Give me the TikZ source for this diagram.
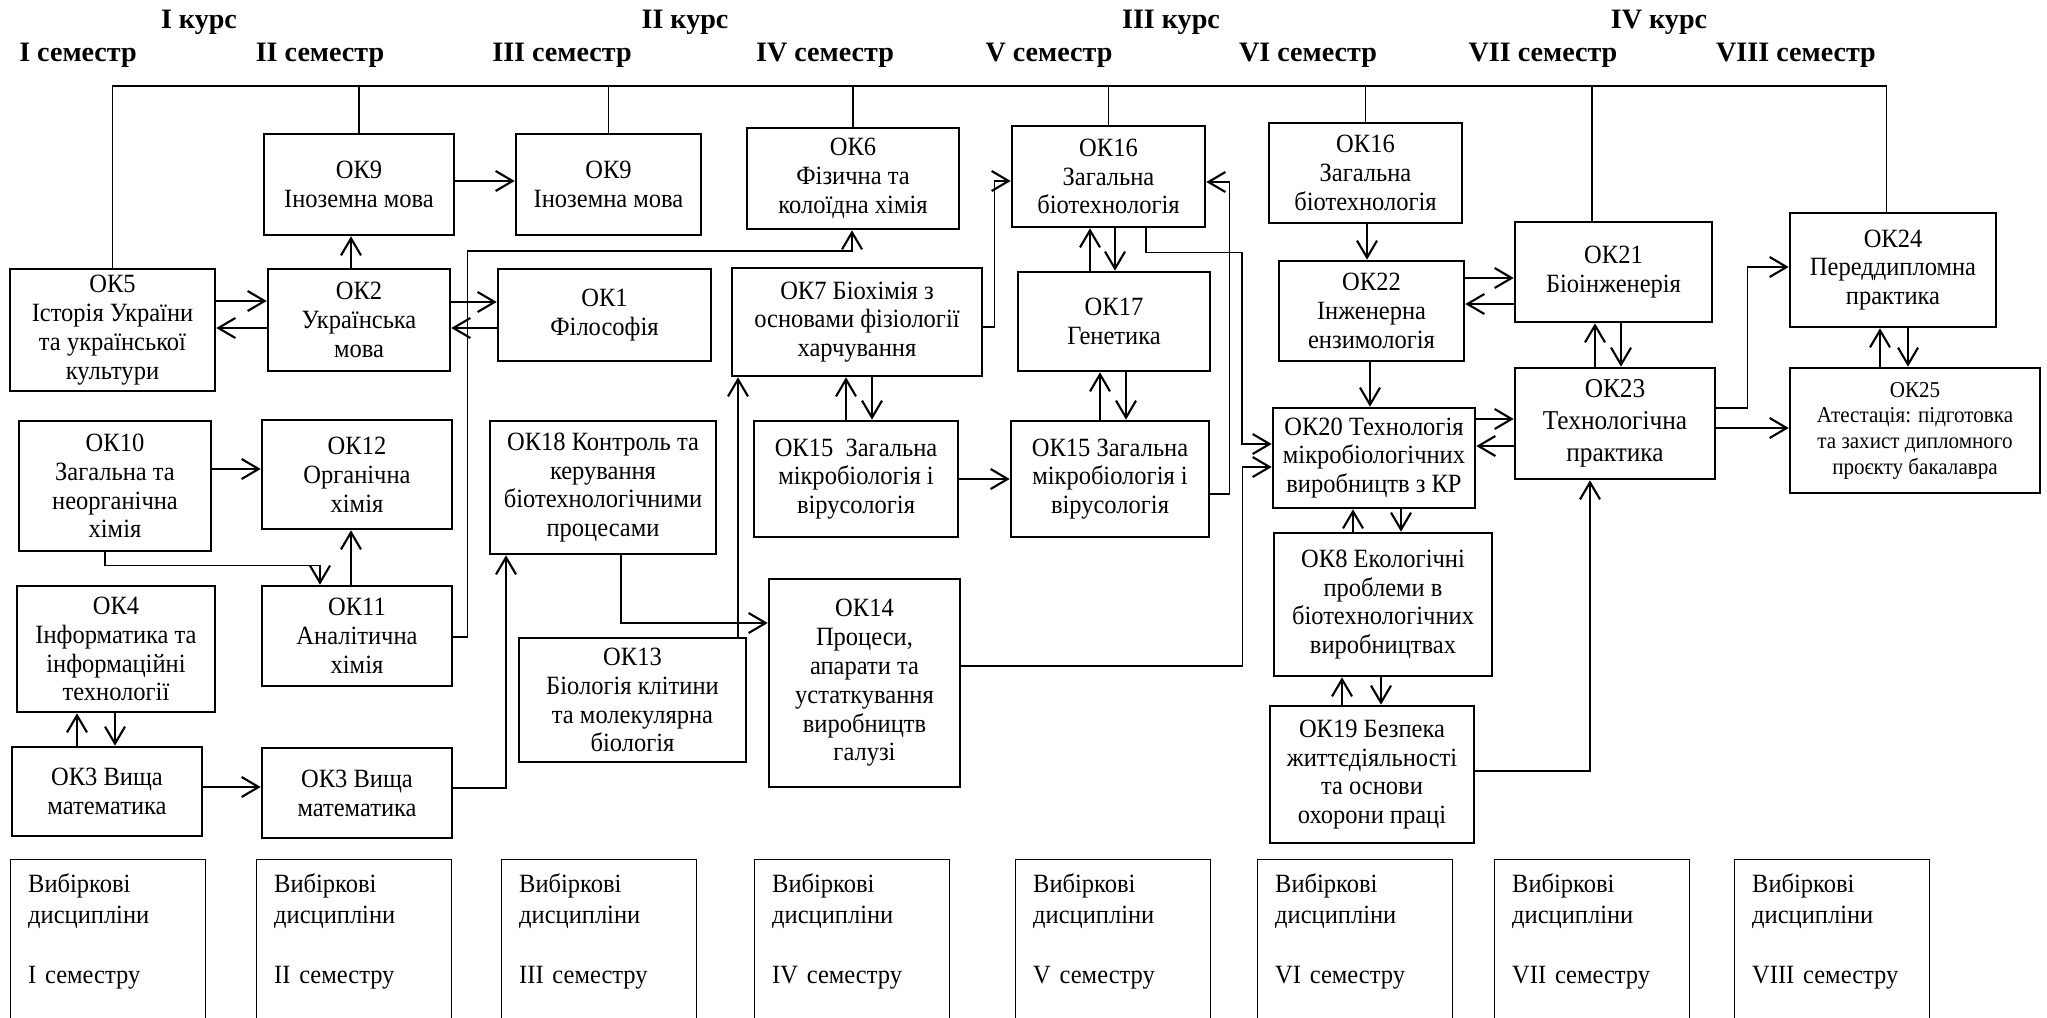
\documentclass[tikz,border=0pt]{standalone}
\usepackage{fontspec}
\setmainfont{Liberation Serif}
\newfontfamily\okfont{Liberation Serif}[FakeStretch=0.93]
\usepackage{tikz}
\usetikzlibrary{arrows.meta,positioning}

\begin{document}
\begin{tikzpicture}[x=0.02cm, y=-0.02cm, every node/.style={font=\okfont\fontsize{15}{16.4}\selectfont}, okbox/.style={draw, line width=1.5pt, align=center, inner sep=2pt}, head/.style={font=\bfseries\fontsize{16}{18}\selectfont}, elect/.style={draw, line width=0.8pt, anchor=north west, align=left, text width=3.2cm, inner xsep=0.35cm, inner ysep=0.27cm, text depth=3cm, font=\okfont\fontsize{15}{17.8}\selectfont}, arr/.style={-{Straight Barb[length=3.4mm, width=4mm]}, line width=1.2pt}, marr/.style={-{Straight Barb[length=3.4mm, width=4mm, line width=1.2pt]}, line width=0.9pt}, tarr/.style={-{Straight Barb[length=3.4mm, width=4mm, line width=1.2pt]}, line width=0.6pt}, link/.style={line width=0.6pt}]
\useasboundingbox (0,0) rectangle (2047,1017);
\node[head] (kurs1) at (199,22) {I курс};
\node[head] (kurs2) at (685,22) {II курс};
\node[head] (kurs3) at (1171,22) {III курс};
\node[head] (kurs4) at (1659,22) {IV курс};
\node[head] (sem1) at (78,55) {I семестр};
\node[head] (sem2) at (320,55) {II семестр};
\node[head] (sem3) at (562,55) {III семестр};
\node[head] (sem4) at (825,55) {IV семестр};
\node[head] (sem5) at (1049,55) {V семестр};
\node[head] (sem6) at (1308,55) {VI семестр};
\node[head] (sem7) at (1543,55) {VII семестр};
\node[head] (sem8) at (1796,55) {VIII семестр};
\coordinate (bar) at (0,86);
\node[okbox, minimum width=4.10cm, minimum height=2.44cm] (ok5) at (112.5,330) {ОК5\\Історія України\\та української\\культури};
\node[okbox, minimum width=3.64cm, minimum height=2.04cm] (ok2) at (359,320) {ОК2\\Українська\\мова};
\node[okbox, minimum width=3.80cm, minimum height=2.02cm] (ok9a) at (359,184.5) {ОК9\\Іноземна мова};
\node[okbox, minimum width=3.70cm, minimum height=2.02cm] (ok9b) at (608.5,184.5) {ОК9\\Іноземна мова};
\node[okbox, minimum width=4.26cm, minimum height=1.84cm] (ok1) at (604.5,315) {ОК1\\Філософія};
\node[okbox, minimum width=4.24cm, minimum height=2.02cm] (ok6) at (853,178.5) {ОК6\\Фізична та\\колоїдна хімія};
\node[okbox, minimum width=5.00cm, minimum height=2.16cm] (ok7) at (857,322) {ОК7 Біохімія з\\основами фізіології\\харчування};
\node[okbox, minimum width=3.86cm, minimum height=2.02cm] (ok16a) at (1108.5,176.5) {ОК16\\Загальна\\біотехнологія};
\node[okbox, minimum width=3.84cm, minimum height=1.98cm] (ok17) at (1114,321.5) {ОК17\\Генетика};
\node[okbox, minimum width=3.86cm, minimum height=2.00cm] (ok16b) at (1365.5,173) {ОК16\\Загальна\\біотехнологія};
\node[okbox, minimum width=3.70cm, minimum height=2.00cm] (ok22) at (1371.5,311) {ОК22\\Інженерна\\ензимологія};
\node[okbox, minimum width=3.94cm, minimum height=2.00cm] (ok21) at (1613.5,272) {ОК21\\Біоінженерія};
\node[okbox, minimum width=4.12cm, minimum height=2.28cm] (ok24) at (1893,270) {ОК24\\Переддипломна\\практика};
\node[okbox, minimum width=3.84cm, minimum height=2.60cm] (ok10) at (115,486) {ОК10\\Загальна та\\неорганічна\\хімія};
\node[okbox, minimum width=3.80cm, minimum height=2.18cm] (ok12) at (357,474.5) {ОК12\\Органічна\\хімія};
\node[okbox, minimum width=4.52cm, minimum height=2.66cm] (ok18) at (603,487.5) {ОК18 Контроль та\\керування\\біотехнологічними\\процесами};
\node[okbox, minimum width=4.08cm, minimum height=2.32cm] (ok15a) at (856,479) {ОК15\ \ Загальна\\мікробіологія і\\вірусологія};
\node[okbox, minimum width=3.96cm, minimum height=2.32cm] (ok15b) at (1110,479) {ОК15 Загальна\\мікробіологія і\\вірусологія};
\node[okbox, minimum width=4.04cm, minimum height=2.00cm] (ok20) at (1374,458) {ОК20 Технологія\\мікробіологічних\\виробництв з КР};
\node[okbox, minimum width=4.00cm, minimum height=2.22cm, font=\okfont\fontsize{15.5}{18}\selectfont] (ok23) at (1615,423.5) {ОК23\\Технологічна\\практика};
\node[okbox, minimum width=5.00cm, minimum height=2.50cm, font=\okfont\fontsize{12.9}{14.6}\selectfont] (ok25) at (1915,430.5) {ОК25\\Атестація: підготовка\\та захист дипломного\\проєкту бакалавра};
\node[okbox, minimum width=3.96cm, minimum height=2.52cm] (ok4) at (116,649) {ОК4\\Інформатика та\\інформаційні\\технології};
\node[okbox, minimum width=3.80cm, minimum height=2.00cm] (ok11) at (357,636) {ОК11\\Аналітична\\хімія};
\node[okbox, minimum width=4.54cm, minimum height=2.48cm] (ok13) at (632.5,700) {ОК13\\Біологія клітини\\та молекулярна\\біологія};
\node[okbox, minimum width=3.82cm, minimum height=4.16cm] (ok14) at (864.5,683) {ОК14\\Процеси,\\апарати та\\устаткування\\виробництв\\галузі};
\node[okbox, minimum width=4.36cm, minimum height=2.86cm] (ok8) at (1383,604.5) {ОК8 Екологічні\\проблеми в\\біотехнологічних\\виробництвах};
\node[okbox, minimum width=4.08cm, minimum height=2.74cm] (ok19) at (1372,774.5) {ОК19 Безпека\\життєдіяльності\\та основи\\охорони праці};
\node[okbox, minimum width=3.80cm, minimum height=1.78cm] (ok3a) at (107,791.5) {ОК3 Вища\\математика};
\node[okbox, minimum width=3.80cm, minimum height=1.80cm] (ok3b) at (357,793) {ОК3 Вища\\математика};
\node[elect] (vyb1) at (10,859) {Вибіркові\\дисципліни\\[0.57cm]I семестру};
\node[elect] (vyb2) at (256,859) {Вибіркові\\дисципліни\\[0.57cm]II семестру};
\node[elect] (vyb3) at (501,859) {Вибіркові\\дисципліни\\[0.57cm]III семестру};
\node[elect] (vyb4) at (754,859) {Вибіркові\\дисципліни\\[0.57cm]IV семестру};
\node[elect] (vyb5) at (1015,859) {Вибіркові\\дисципліни\\[0.57cm]V семестру};
\node[elect] (vyb6) at (1257,859) {Вибіркові\\дисципліни\\[0.57cm]VI семестру};
\node[elect] (vyb7) at (1494,859) {Вибіркові\\дисципліни\\[0.57cm]VII семестру};
\node[elect] (vyb8) at (1734,859) {Вибіркові\\дисципліни\\[0.57cm]VIII семестру};
\draw[link] (ok5.north) |- (bar -| 1886,0) -- (ok24.north -| 1886,0); \draw[link] (ok9a.north) -- (ok9a.north |- bar); \draw[link] (ok9b.north) -- (ok9b.north |- bar); \draw[link] (ok6.north) -- (ok6.north |- bar); \draw[link] (ok16a.north) -- (ok16a.north |- bar); \draw[link] (ok16b.north) -- (ok16b.north |- bar); \draw[link] (ok21.north -| 1592,0) -- (bar -| 1592,0);
\draw[arr] (ok5.east |- 0,301) -- (ok2.west |- 0,301); \draw[arr] (ok2.west |- 0,328) -- (ok5.east |- 0,328); \draw[arr] (ok2.north -| 351,0) -- (ok9a.south -| 351,0); \draw[arr] (ok9a.east |- 0,181) -- (ok9b.west |- 0,181); \draw[arr] (ok2.east |- 0,302) -- (ok1.west |- 0,302); \draw[arr] (ok1.west |- 0,328) -- (ok2.east |- 0,328); \draw[arr] (ok10.east |- 0,469) -- (ok12.west |- 0,469); \draw[tarr] (ok10.south -| 105,0) -- ++(0,13) -| (ok11.north -| 320,0); \draw[arr] (ok11.north -| 351,0) -- (ok12.south -| 351,0); \draw[tarr] (ok11.east |- 0,637) -- ++(14,0) -- ++(0,-386) -| (ok6.south -| 852,0); \draw[arr] (ok3a.north -| 77,0) -- (ok4.south -| 77,0); \draw[arr] (ok4.south -| 115,0) -- (ok3a.north -| 115,0); \draw[arr] (ok3a.east |- 0,787) -- (ok3b.west |- 0,787); \draw[arr] (ok3b.east |- 0,788) -| (ok18.south -| 506,0); \draw[arr] (ok18.south -| 621,0) |- (ok14.west |- 0,623); \draw[arr] (ok13.north -| 738,0) -- (ok7.south -| 738,0); \draw[arr] (ok15a.north -| 846,0) -- (ok7.south -| 846,0); \draw[arr] (ok7.south -| 872,0) -- (ok15a.north -| 872,0); \draw[arr] (ok15a.east |- 0,479) -- (ok15b.west |- 0,479); \draw[tarr] (ok7.east |- 0,327) -- ++(11,0) |- (ok16a.west |- 0,181); \draw[arr] (ok17.north -| 1090,0) -- (ok16a.south -| 1090,0); \draw[arr] (ok16a.south -| 1115,0) -- (ok17.north -| 1115,0); \draw[arr] (ok15b.north -| 1100,0) -- (ok17.south -| 1100,0); \draw[arr] (ok17.south -| 1126,0) -- (ok15b.north -| 1126,0); \draw[tarr] (ok15b.east |- 0,494) -- ++(19,0) |- (ok16a.east |- 0,182); \draw[tarr] (ok16a.south -| 1146,0) -- ++(0,24) -- ++(96,0) |- (ok20.west |- 0,444); \draw[marr] (ok14.east |- 0,666) -- ++(281,0) |- (ok20.west |- 0,467); \draw[arr] (ok16b.south -| 1367,0) -- (ok22.north -| 1367,0); \draw[arr] (ok22.south -| 1370,0) -- (ok20.north -| 1370,0); \draw[arr] (ok22.east |- 0,278) -- (ok21.west |- 0,278); \draw[arr] (ok21.west |- 0,304) -- (ok22.east |- 0,304); \draw[arr] (ok23.north -| 1595,0) -- (ok21.south -| 1595,0); \draw[arr] (ok21.south -| 1621,0) -- (ok23.north -| 1621,0); \draw[arr] (ok20.east |- 0,419) -- (ok23.west |- 0,419); \draw[arr] (ok23.west |- 0,446) -- (ok20.east |- 0,446); \draw[arr] (ok8.north -| 1353,0) -- (ok20.south -| 1353,0); \draw[arr] (ok20.south -| 1401,0) -- (ok8.north -| 1401,0); \draw[arr] (ok19.north -| 1342,0) -- (ok8.south -| 1342,0); \draw[arr] (ok8.south -| 1381,0) -- (ok19.north -| 1381,0); \draw[marr] (ok19.east |- 0,771) -| (ok23.south -| 1590,0); \draw[marr] (ok23.east |- 0,408) -- ++(31,0) |- (ok24.west |- 0,267); \draw[arr] (ok23.east |- 0,428) -- (ok25.west |- 0,428); \draw[arr] (ok25.north -| 1880,0) -- (ok24.south -| 1880,0); \draw[arr] (ok24.south -| 1908,0) -- (ok25.north -| 1908,0);
\end{tikzpicture}
\end{document}
